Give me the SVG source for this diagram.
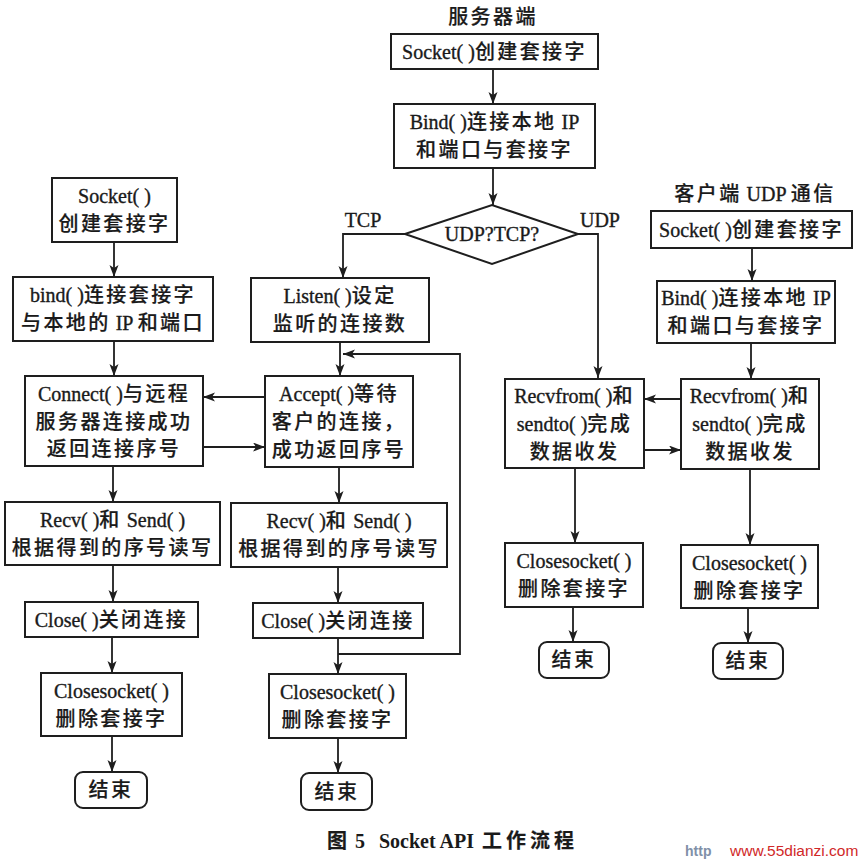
<svg xmlns="http://www.w3.org/2000/svg" width="864" height="863" viewBox="0 0 864 863">
<style>
.n rect, .n polygon {fill:#fff; stroke:#1e1e1e; stroke-width:2}
text {font-family:"Liberation Serif","Noto Sans CJK SC",serif; font-size:20px; fill:#1a1a1a; stroke:#1a1a1a; stroke-width:0.35px; text-anchor:middle}
.c {letter-spacing:2.4px; font-weight:500; stroke-width:0.2px}
#connectors path, #connectors line {fill:none; stroke:#1e1e1e; stroke-width:1.8}
.cap {font-weight:bold; stroke-width:0; text-anchor:start}
.cap .c {font-weight:bold; letter-spacing:4px}
</style>
<defs>
<marker id="ah" markerUnits="userSpaceOnUse" markerWidth="13" markerHeight="10" refX="12" refY="4.5" orient="auto">
<path d="M0,0 L12,4.5 L0,9 L3,4.5 z" fill="#1e1e1e" stroke="none"/>
</marker>
</defs>
<rect width="864" height="863" fill="#fff"/>

<text x="493" y="24"><tspan class="c">服务器端</tspan></text>
<text x="755" y="201"><tspan class="c">客户端</tspan> UDP <tspan class="c">通信</tspan></text>
<text x="363" y="227">TCP</text>
<text x="600" y="227">UDP</text>

<g id="connectors">
<line x1="493" y1="69" x2="493" y2="104" marker-end="url(#ah)"/>
<line x1="493" y1="168" x2="493" y2="205" marker-end="url(#ah)"/>
<path d="M405,234 H343 V278" marker-end="url(#ah)"/>
<path d="M578,234 H598 V378" marker-end="url(#ah)"/>
<line x1="114" y1="242" x2="114" y2="277" marker-end="url(#ah)"/>
<line x1="114" y1="341" x2="114" y2="376" marker-end="url(#ah)"/>
<line x1="265" y1="397" x2="203" y2="397" marker-end="url(#ah)"/>
<line x1="203" y1="447" x2="265" y2="447" marker-end="url(#ah)"/>
<line x1="340" y1="342" x2="340" y2="376" marker-end="url(#ah)"/>
<path d="M338,654 H460 V354 H343" marker-end="url(#ah)"/>
<line x1="113" y1="466" x2="113" y2="502" marker-end="url(#ah)"/>
<line x1="339" y1="467" x2="339" y2="503" marker-end="url(#ah)"/>
<line x1="113" y1="565" x2="113" y2="602" marker-end="url(#ah)"/>
<line x1="338" y1="567" x2="338" y2="603" marker-end="url(#ah)"/>
<line x1="112" y1="637" x2="112" y2="673" marker-end="url(#ah)"/>
<line x1="338" y1="638" x2="338" y2="674" marker-end="url(#ah)"/>
<line x1="112" y1="736" x2="112" y2="772" marker-end="url(#ah)"/>
<line x1="338" y1="738" x2="338" y2="773" marker-end="url(#ah)"/>
<line x1="752" y1="248" x2="752" y2="281" marker-end="url(#ah)"/>
<line x1="751" y1="343" x2="751" y2="379" marker-end="url(#ah)"/>
<line x1="681" y1="399" x2="644" y2="399" marker-end="url(#ah)"/>
<line x1="644" y1="450" x2="681" y2="450" marker-end="url(#ah)"/>
<line x1="575" y1="468" x2="575" y2="543" marker-end="url(#ah)"/>
<line x1="750" y1="469" x2="750" y2="545" marker-end="url(#ah)"/>
<line x1="573" y1="607" x2="573" y2="642" marker-end="url(#ah)"/>
<line x1="748" y1="608" x2="748" y2="643" marker-end="url(#ah)"/>
</g>

<g id="srv_socket" class="n"><rect x="391" y="34" width="207" height="35"/>
<text x="494.5" y="58.5">Socket( )<tspan class="c">创建套接字</tspan></text></g>
<g id="srv_bind" class="n"><rect x="394" y="104" width="201" height="64"/>
<text x="494.5" y="129">Bind( )<tspan class="c">连接本地</tspan> IP</text>
<text x="494.5" y="157"><tspan class="c">和端口与套接字</tspan></text></g>
<g id="decision" class="n"><polygon points="405,234 492,205 578,234 492,264"/>
<text x="492" y="241">UDP?TCP?</text></g>

<g id="c_socket" class="n"><rect x="52" y="178" width="125" height="64"/>
<text x="114.5" y="203">Socket( )</text>
<text x="114.5" y="231"><tspan class="c">创建套接字</tspan></text></g>
<g id="c_bind" class="n"><rect x="13" y="277" width="200" height="64"/>
<text x="113" y="302">bind( )<tspan class="c">连接套接字</tspan></text>
<text x="113" y="330"><tspan class="c">与本地的</tspan> IP <tspan class="c">和端口</tspan></text></g>
<g id="c_connect" class="n"><rect x="25" y="376" width="178" height="90"/>
<text x="114" y="401">Connect( )<tspan class="c">与远程</tspan></text>
<text x="114" y="429"><tspan class="c">服务器连接成功</tspan></text>
<text x="114" y="456"><tspan class="c">返回连接序号</tspan></text></g>
<g id="c_recv" class="n"><rect x="5" y="502" width="215" height="63"/>
<text x="112.5" y="526.5">Recv( )<tspan class="c">和</tspan> Send( )</text>
<text x="112.5" y="554.5"><tspan class="c">根据得到的序号读写</tspan></text></g>
<g id="c_close" class="n"><rect x="25" y="602" width="173" height="35"/>
<text x="111.5" y="626.5">Close( )<tspan class="c">关闭连接</tspan></text></g>
<g id="c_closesocket" class="n"><rect x="41" y="673" width="141" height="63"/>
<text x="111.5" y="697.5">Closesocket( )</text>
<text x="111.5" y="725.5"><tspan class="c">删除套接字</tspan></text></g>
<g id="c_end" class="n"><rect x="75" y="772" width="72" height="36" rx="8"/>
<text x="111" y="797"><tspan class="c">结束</tspan></text></g>

<g id="s_listen" class="n"><rect x="251" y="278" width="178" height="64"/>
<text x="340" y="303">Listen( )<tspan class="c">设定</tspan></text>
<text x="340" y="331"><tspan class="c">监听的连接数</tspan></text></g>
<g id="s_accept" class="n"><rect x="265" y="376" width="148" height="91"/>
<text x="339" y="401">Accept( )<tspan class="c">等待</tspan></text>
<text x="339" y="429"><tspan class="c">客户的连接，</tspan></text>
<text x="339" y="457"><tspan class="c">成功返回序号</tspan></text></g>
<g id="s_recv" class="n"><rect x="231" y="503" width="216" height="64"/>
<text x="339" y="528">Recv( )<tspan class="c">和</tspan> Send( )</text>
<text x="339" y="556"><tspan class="c">根据得到的序号读写</tspan></text></g>
<g id="s_close" class="n"><rect x="253" y="603" width="170" height="35"/>
<text x="338" y="627.5">Close( )<tspan class="c">关闭连接</tspan></text></g>
<g id="s_closesocket" class="n"><rect x="269" y="674" width="137" height="64"/>
<text x="337.5" y="699">Closesocket( )</text>
<text x="337.5" y="727"><tspan class="c">删除套接字</tspan></text></g>
<g id="s_end" class="n"><rect x="301" y="773" width="71" height="37" rx="8"/>
<text x="337" y="798.5"><tspan class="c">结束</tspan></text></g>

<g id="u_recv" class="n"><rect x="505" y="379" width="139" height="89"/>
<text x="574.5" y="402.5">Recvfrom( )<tspan class="c">和</tspan></text>
<text x="574.5" y="430.5">sendto( )<tspan class="c">完成</tspan></text>
<text x="574.5" y="458.5"><tspan class="c">数据收发</tspan></text></g>
<g id="u_closesocket" class="n"><rect x="505" y="543" width="138" height="64"/>
<text x="574" y="568">Closesocket( )</text>
<text x="574" y="596"><tspan class="c">删除套接字</tspan></text></g>
<g id="u_end" class="n"><rect x="539" y="642" width="70" height="36" rx="8"/>
<text x="574" y="667"><tspan class="c">结束</tspan></text></g>

<g id="cu_socket" class="n"><rect x="651" y="211" width="201" height="37"/>
<text x="751.5" y="236.5">Socket( )<tspan class="c">创建套接字</tspan></text></g>
<g id="cu_bind" class="n"><rect x="657" y="281" width="178" height="62"/>
<text x="746" y="305">Bind( )<tspan class="c">连接本地</tspan> IP</text>
<text x="746" y="333"><tspan class="c">和端口与套接字</tspan></text></g>
<g id="cu_recv" class="n"><rect x="681" y="379" width="138" height="90"/>
<text x="750" y="403">Recvfrom( )<tspan class="c">和</tspan></text>
<text x="750" y="431">sendto( )<tspan class="c">完成</tspan></text>
<text x="750" y="459"><tspan class="c">数据收发</tspan></text></g>
<g id="cu_closesocket" class="n"><rect x="681" y="545" width="137" height="63"/>
<text x="749.5" y="569.5">Closesocket( )</text>
<text x="749.5" y="597.5"><tspan class="c">删除套接字</tspan></text></g>
<g id="cu_end" class="n"><rect x="713" y="643" width="70" height="36" rx="8"/>
<text x="748" y="668"><tspan class="c">结束</tspan></text></g>

<text class="cap" y="848"><tspan class="c" x="327">图</tspan><tspan x="355">5</tspan><tspan x="379">Socket API</tspan><tspan class="c" x="482">工作流程</tspan></text>
<text x="685" y="856" style="font-family:'Liberation Sans',sans-serif;font-size:14px;font-weight:bold;fill:#8090a8;stroke:none;text-anchor:start">http</text>
<text x="730" y="856" style="font-family:'Liberation Sans',sans-serif;font-size:15.5px;fill:#d02828;stroke:none;text-anchor:start">www.55dianzi.com</text>
</svg>
